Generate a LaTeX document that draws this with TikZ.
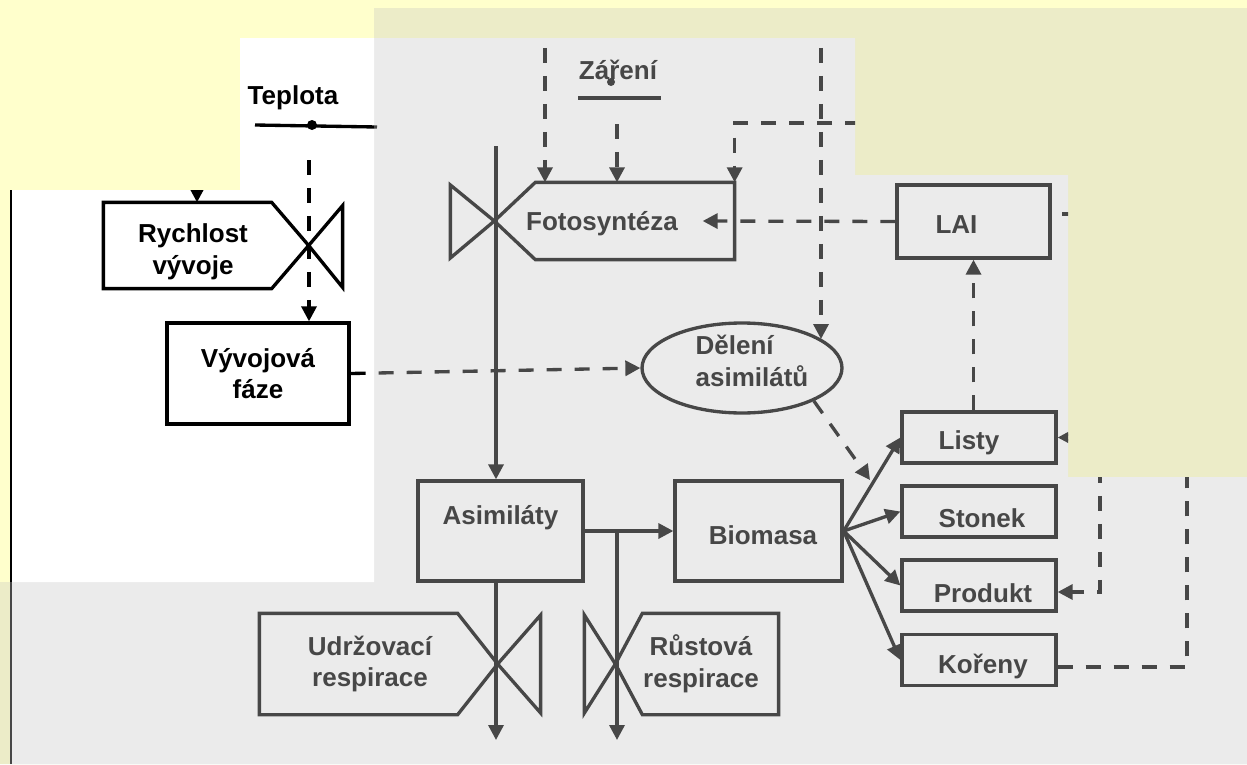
\documentclass[tikz,border=0pt]{standalone}
\usepackage{fontspec}
\setmainfont{Liberation Sans}
\usetikzlibrary{arrows.meta, shapes.geometric}

\definecolor{slideyellow}{RGB}{255,255,204}
\definecolor{shadeyellow}{RGB}{236,236,200}
\definecolor{shadegrey}{RGB}{235,235,235}
\definecolor{ink}{RGB}{71,71,71}

\newcommand{\growthmodel}{
  \node (teplota) at (293,98) {Teplota};
  \node (tdot) [circle, fill, minimum size=0.2cm] at (312,125) {};
  \coordinate (tl) at (255,125);
  \coordinate (tr) at (377,127);
  \draw (tl) -- (tr);

  \node (zareni) at (618,70) {Záření};
  \node (zdot) [circle, fill, minimum size=0.16cm] at (611,82) {};
  \coordinate (zl) at (578,98);
  \coordinate (zr) at (661,98);
  \draw (zl) -- (zr);

  \node (rych) [minimum width=4.04cm, minimum height=1.66cm,
    label={[align=center, xshift=-0.26cm, yshift=-0.12cm]center:Rychlost\\vývoje}] at (206,245.5) {};
  \draw (rych.south west) -- (rych.north west) -- ([xshift=-0.74cm]rych.north east)
    -- (rych.east) -- ([xshift=-0.74cm]rych.south east) -- cycle;
  \draw (rych.east) -- ++(34,-40) -- ++(0,82) -- cycle;

  \node (vyv) [draw, minimum width=3.64cm, minimum height=2.02cm, align=center] at (258,373.5) {Vývojová\\fáze};

  \node (foto) [minimum width=4.74cm, minimum height=1.48cm,
    label={[xshift=-0.25cm, yshift=-0.06cm]center:Fotosyntéza}] at (614.5,221) {};
  \draw (foto.north east) -- (foto.south east) -- ([xshift=0.82cm]foto.south west)
    -- (foto.west) -- ([xshift=0.82cm]foto.north west) -- cycle;
  \draw (foto.west) -- ++(-44,-36) -- ++(0,73) -- cycle;

  \node (lai) [draw, minimum width=3.06cm, minimum height=1.46cm,
    label={[xshift=-0.34cm, yshift=-0.06cm]center:LAI}] at (973.5,221.5) {};

  \node (del) [draw, ellipse, minimum width=4cm, minimum height=1.8cm,
    label={[align=left, xshift=0.2cm, yshift=0.14cm]center:Dělení\\asimilátů}] at (742,368) {};

  \node (asim) [draw, minimum width=3.3cm, minimum height=2cm,
    label={[yshift=0.26cm]center:Asimiláty}] at (500.5,531) {};
  \node (bio) [draw, minimum width=3.34cm, minimum height=2cm,
    label={[xshift=0.09cm, yshift=-0.08cm]center:Biomasa}] at (758.5,531) {};

  \node (listy) [box, label={[xshift=-0.2cm, yshift=-0.11cm]center:Listy}] at (979,437.5) {};
  \node (stonek) [box, label={[xshift=0.06cm, yshift=-0.13cm]center:Stonek}] at (979,511.5) {};
  \node (produkt) [box, label={[xshift=0.08cm, yshift=-0.15cm]center:Produkt}] at (979,585.5) {};
  \node (koreny) [box, label={[xshift=0.08cm, yshift=-0.12cm]center:Kořeny}] at (979,660) {};

  \node (udr) [minimum width=4.7cm, minimum height=1.96cm,
    label={[align=center, xshift=-0.17cm]center:Udržovací\\respirace}] at (378.5,664) {};
  \draw (udr.south west) -- (udr.north west) -- ([xshift=-0.8cm]udr.north east)
    -- (udr.east) -- ([xshift=-0.8cm]udr.south east) -- cycle;
  \draw (udr.east) -- ++(43,-49) -- ++(0,98) -- cycle;

  \node (rust) [minimum width=3.2cm, minimum height=1.96cm,
    label={[align=center, xshift=0.08cm]center:Růstová\\respirace}] at (697,664) {};
  \draw (rust.north east) -- (rust.south east) -- ([xshift=0.54cm]rust.south west)
    -- (rust.west) -- ([xshift=0.54cm]rust.north west) -- cycle;
  \draw (rust.west) -- ++(-31,-49) -- ++(0,98) -- cycle;

  \coordinate (rychin) at (197,150);
  \coordinate (tdash) at (309,160);
  \coordinate (stem) at (496,146);
  \coordinate (srcA) at (545,20);
  \coordinate (zdash) at (617,124);
  \coordinate (srcB) at (821,20);
  \coordinate (srcC) at (1000,123);
  \coordinate (laiR) at (1062,214);
  \coordinate (laiRR) at (1200,214);
  \coordinate (listyin) at (1200,437);
  \coordinate (prodin) at (1100,300);
  \coordinate (korup) at (1187,300);
  \coordinate (split) at (870,480);
  \coordinate (udrout) at (496,740);
  \coordinate (rustout) at (617,740);
  \coordinate (edgetop) at (11,190);
  \coordinate (edgebot) at (11,764);

  \draw[flow] (rychin) -- (rychin |- rych.north);
  \draw[infoflow] (tdash) -- (tdash |- vyv.north);
  \draw[flow] (stem) -- (stem |- asim.north);
  \draw[flow] (stem |- asim.south) -- (udrout);
  \draw[flow] (asim.east) -- (bio.west);
  \draw[flow] (rustout |- asim.east) -- (rustout);
  \draw[flow] (bio.east) -- (listy.west);
  \draw[flow] (bio.east) -- (stonek.west);
  \draw[flow] (bio.east) -- (produkt.west);
  \draw[flow] (bio.east) -- (koreny.west);
  \draw[infoflow] (srcA) -- (srcA |- foto.north);
  \draw[infoflow] (zdash) -- (zdash |- foto.north);
  \draw[infoflow] (srcC) -| (foto.north east);
  \draw[infoflow] (srcB) -- (srcB |- del.20);
  \draw[infoflow] (lai.west) -- ([xshift=-0.64cm]foto.east);
  \draw[infoflow] (lai.south |- listy.north) -- (lai.south);
  \draw[infoflow] (vyv.east) -- (del.west);
  \draw[infoflow] (del.south east) -- (split);
  \draw[infoline] (laiR) -- (laiRR);
  \draw[infoflow] (listyin) -- (listy.east);
  \draw[infoflow] (prodin) |- ([yshift=-0.13cm]produkt.east);
  \draw[infoline] ([yshift=-0.14cm]koreny.east) -| (korup);
  \draw[line width=1.1pt] (edgetop) -- (edgebot);
}

\begin{document}
\begin{tikzpicture}[x=0.02cm, y=-0.02cm, line width=1.9pt,
  every node/.style={font=\fontsize{14.8}{18}\selectfont\bfseries, inner sep=0pt},
  box/.style={draw, minimum width=3.08cm, minimum height=1.02cm},
  flow/.style={-{Triangle[length=0.3cm, width=0.3cm]}},
  infoflow/.style={flow, dash pattern=on 0.3cm off 0.26cm},
  infoline/.style={dash pattern=on 0.3cm off 0.26cm}]
  \useasboundingbox (0,0) rectangle (1247,764);

  % slide background
  \fill[slideyellow] (0,0) rectangle (1247,764);
  \fill[shadeyellow] (374,8) -| (1247,764) -| (0,582) -| (374,8) -- cycle;
  \fill[shadegrey] (374,38) -| (855,175) -| (1068,477) -| (1247,764) -| (10,582) -| (374,38) -- cycle;
  \fill[white] (240,38) -| (374,582) -| (10,190) -| (240,38) -- cycle;

  \begin{scope}[color=black]
    \clip (240,38) -| (374,582) -| (10,190) -| (240,38) -- cycle;
    \growthmodel
  \end{scope}
  \begin{scope}[color=ink]
    \clip (374,38) -| (855,175) -| (1068,477) -| (1247,764) -| (0,582) -| (374,38) -- cycle;
    \growthmodel
  \end{scope}
\end{tikzpicture}
\end{document}
